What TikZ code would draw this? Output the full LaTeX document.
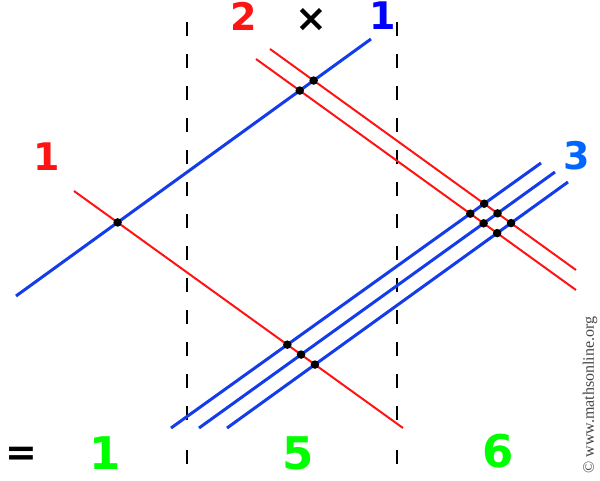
\documentclass[tikz,border=0pt]{standalone}
\usepackage{fontspec}
\setmainfont{Liberation Serif}
\newfontfamily\digitfont{DejaVu Sans}
\usepackage{tikz}
\usetikzlibrary{calc}
\definecolor{linered}{RGB}{255, 20, 20}
\definecolor{lineblue}{RGB}{20, 60, 235}
\definecolor{labelblue}{RGB}{0, 0, 255}
\definecolor{skyblue}{RGB}{0, 102, 255}
\definecolor{countgreen}{RGB}{0, 255, 0}
\definecolor{notegray}{RGB}{70, 70, 70}

\tikzset{
  redline/.style={draw=linered, line width=2pt},
  blueline/.style={draw=lineblue, line width=3pt},
  divider/.style={draw=black, line width=2pt, dash pattern=on 14pt off 18pt},
  crossdot/.style={circle, fill=black, inner sep=0pt, minimum size=8.5pt},
  biglabel/.style={font=\digitfont\bfseries\fontsize{38}{40}\selectfont, inner sep=0pt},
  countlabel/.style={font=\digitfont\bfseries\fontsize{45}{48}\selectfont, text=countgreen, inner sep=0pt}
}

\begin{document}
\begin{tikzpicture}[x=1pt, y=-1pt]
  \useasboundingbox (0,0) rectangle (600,480);

  % Dividers
  \coordinate (d1s) at (187,22);  \coordinate (d1e) at (187,428);
  \coordinate (d2s) at (397,22);  \coordinate (d2e) at (397,428);
  \coordinate (d1t) at (187,450); \coordinate (d1b) at (187,472);
  \coordinate (d2t) at (397,450); \coordinate (d2b) at (397,472);
  \draw[divider] (d1s) -- (d1e) (d1t) -- (d1b);
  \draw[divider] (d2s) -- (d2e) (d2t) -- (d2b);

  % Line end points
  \coordinate (b1s) at (16,296);   \coordinate (b1e) at (371,39);
  \coordinate (r1s) at (74,191);   \coordinate (r1e) at (403,428);
  \coordinate (r2as) at (270,49);  \coordinate (r2ae) at (576,270);
  \coordinate (r2bs) at (256,59);  \coordinate (r2be) at (576,290);
  \coordinate (b3as) at (171,428); \coordinate (b3ae) at (541,163);
  \coordinate (b3bs) at (199,428); \coordinate (b3be) at (555,172);
  \coordinate (b3cs) at (227,428); \coordinate (b3ce) at (568,182);

  % Red lines
  \draw[redline] (r1s) -- (r1e);
  \draw[redline] (r2as) -- (r2ae);
  \draw[redline] (r2bs) -- (r2be);

  % Blue lines
  \draw[blueline] (b1s) -- (b1e);
  \draw[blueline] (b3as) -- (b3ae);
  \draw[blueline] (b3bs) -- (b3be);
  \draw[blueline] (b3cs) -- (b3ce);

  % Crossings
  \foreach \p/\q in {b1/r1, b1/r2a, b1/r2b, b3a/r1, b3b/r1, b3c/r1,
                     b3a/r2a, b3a/r2b, b3b/r2a, b3b/r2b, b3c/r2a, b3c/r2b}
    \node[crossdot] (dot\p\q) at (intersection of \p s--\p e and \q s--\q e) {};

  % Labels
  \node[biglabel, text=linered] (twolab) at (244,16) {2};
  \node[biglabel] (timeslab) at (311,20) {×};
  \node[biglabel, text=labelblue] (onelab) at (383,16) {1};
  \node[biglabel, text=linered] (redlab) at (47,157) {1};
  \node[biglabel, text=skyblue] (threelab) at (577,156) {3};

  % Counts
  \node[biglabel] (eqlab) at (21,456) {=};
  \node[countlabel] (leftcount) at (105,453) {1};
  \node[countlabel] (midcount) at (298,453) {5};
  \node[countlabel] (rightcount) at (498,451) {6};

  \node[font=\fontsize{16}{18}\selectfont, text=notegray, rotate=90, inner sep=0pt] (credit) at (590,395) {© www.mathsonline.org};
\end{tikzpicture}
\end{document}
